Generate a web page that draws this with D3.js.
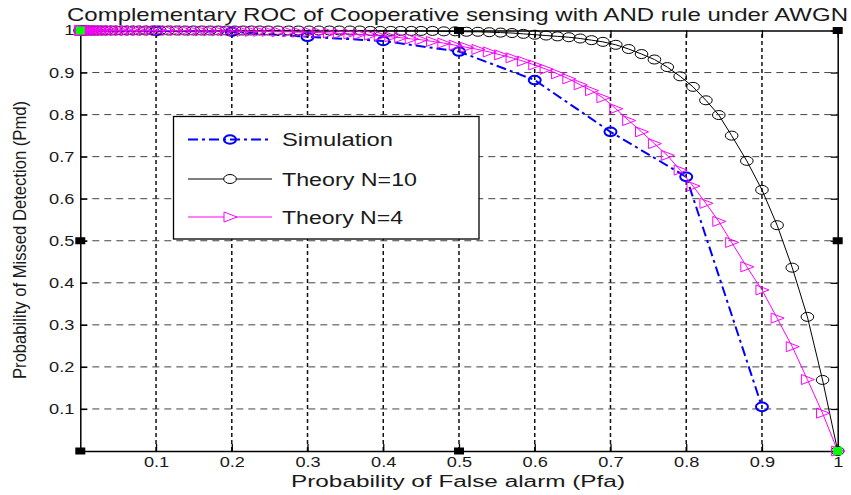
<!DOCTYPE html>
<html><head><meta charset="utf-8">
<script src="https://cdn.jsdelivr.net/npm/d3@7"></script>
<style>html,body{margin:0;padding:0;background:#fff;}svg{display:block;}</style>
</head><body>
<svg id="chart" width="851" height="495"></svg>
<script>
// ---------- data ----------
const titleText = "Complementary ROC of Cooperative sensing with AND rule under AWGN";
const xLabelText = "Probability of False alarm (Pfa)";
const yLabelText = "Probability of Missed Detection (Pmd)";
const seriesNames = ["Simulation", "Theory N=10", "Theory N=4"];

const xTickValues = [0.1,0.2,0.3,0.4,0.5,0.6,0.7,0.8,0.9,1];
const xTickLabels = ["0.1","0.2","0.3","0.4","0.5","0.6","0.7","0.8","0.9","1"];
const yTickValues = [0.1,0.2,0.3,0.4,0.5,0.6,0.7,0.8,0.9,1];
const yTickLabels = ["0.1","0.2","0.3","0.4","0.5","0.6","0.7","0.8","0.9","1"];

const pfaSim = [0,0.1,0.2,0.3,0.4,0.5,0.6,0.7,0.8,0.9];
const pmdSim = [1.000,0.999,0.997,0.985,0.975,0.950,0.882,0.759,0.652,0.105];

const pfaTheory = [0,0.001,0.002,0.003,0.004,0.006,0.008,0.011,0.014,0.017,0.021,0.025,0.030,0.035,0.041,0.047,0.054,0.061,0.069,0.077,0.086,0.095,
  0.105,0.116,0.127,0.138,0.149,0.160,0.171,0.182,0.193,0.204,0.215,0.226,0.237,0.248,
  0.261,0.275,0.288,0.302,0.315,0.329,0.342,0.356,0.369,0.383,0.396,0.410,0.423,0.437,
  0.450,0.465,0.480,0.495,0.510,0.525,0.540,0.555,0.570,0.585,0.600,0.615,0.630,0.645,0.660,0.675,0.690,
  0.707,0.724,0.741,0.758,0.775,0.792,0.809,0.826,0.843,
  0.860,0.880,0.900,0.920,0.940,0.960,0.980,1.000];

const pmdN10 = [1,1,1,1,1,1,1,1,1,1,1,1,1,1,1,1,1,1,1,1,1,1,
  1,1,1,1,1,1,1,1,1,1,1,1,1,1,
  1,1,1,1,1,1,1,1,1,0.999,0.999,0.999,0.999,0.999,
  0.999,0.999,0.998,0.998,0.997,0.997,0.996,0.995,0.994,0.992,0.990,0.988,0.986,0.984,0.981,0.977,0.973,
  0.966,0.956,0.944,0.931,0.913,0.891,0.866,0.834,0.799,
  0.750,0.690,0.621,0.537,0.436,0.319,0.169,0.000];

const pmdN4 = [1,1,1,1,1,1,1,1,1,1,1,1,1,1,1,1,1,1,1,1,1,1,
  1,1,1,1,0.999,0.999,0.999,0.999,0.999,0.999,0.998,0.998,0.998,0.998,
  0.997,0.997,0.996,0.996,0.995,0.994,0.993,0.992,0.991,0.989,0.987,0.985,0.983,0.980,
  0.978,0.974,0.970,0.965,0.960,0.955,0.949,0.942,0.935,0.927,0.918,0.908,0.897,0.885,0.871,0.857,0.840,
  0.814,0.786,0.759,0.731,0.703,0.668,0.630,0.589,0.546,
  0.496,0.438,0.383,0.316,0.248,0.170,0.090,0.000];

// stray square markers visible in the figure
const blackSquares = [[0,0],[0.5,0],[0,0.5],[1,0.5],[1,1],[0.5,1]];
const greenSquares = [[0,1],[1,0]];

// ---------- drawing ----------
const FONT = "'Liberation Sans', Arial, Helvetica, sans-serif";
const SX = 1.3; // horizontal stretch of the reference
const svg = d3.select("#chart");
const x = d3.scaleLinear().domain([0,1]).range([80.3,837.7]);
const y = d3.scaleLinear().domain([0,1]).range([451,30.5]);

function stretch(sel, factor, fixed) {
  sel.each(function(){
    const L = this.getComputedTextLength();
    d3.select(this).attr("textLength", fixed ? fixed : L*factor).attr("lengthAdjust","spacingAndGlyphs");
  });
}

svg.append("rect").attr("width",851).attr("height",495).attr("fill","#fff");

// grid
const g = svg.append("g");
g.selectAll("line.vg").data(xTickValues.filter(d=>d<1)).join("line")
  .attr("x1",d=>x(d)).attr("x2",d=>x(d)).attr("y1",y(0)).attr("y2",y(1))
  .attr("stroke","#111").attr("stroke-width",1.5).attr("stroke-dasharray","4,3");
g.selectAll("line.hg").data(yTickValues.filter(d=>d<1)).join("line")
  .attr("y1",d=>y(d)).attr("y2",d=>y(d)).attr("x1",x(0)).attr("x2",x(1))
  .attr("stroke","#444").attr("stroke-width",1).attr("stroke-dasharray","7,5");

// axes
function styleAxis(a){
  a.selectAll("path.domain").attr("stroke","#000").attr("stroke-width",1.5);
  a.selectAll(".tick line").attr("stroke","#000").attr("stroke-width",1.3);
  a.selectAll(".tick text").attr("fill","#1a1a1a").style("font-family",FONT).style("font-size","14px");
}
const ax = svg.append("g").attr("transform",`translate(0,${y(0)})`)
  .call(d3.axisBottom(x).tickValues(xTickValues).tickFormat((d,i)=>xTickLabels[i]).tickSizeInner(-7).tickSizeOuter(0).tickPadding(6));
styleAxis(ax);
const ay = svg.append("g").attr("transform",`translate(${x(0)},0)`)
  .call(d3.axisLeft(y).tickValues(yTickValues).tickFormat((d,i)=>yTickLabels[i]).tickSizeInner(-7).tickSizeOuter(0).tickPadding(6));
styleAxis(ay);
const at = svg.append("g").attr("transform",`translate(0,${y(1)})`)
  .call(d3.axisTop(x).tickValues(xTickValues).tickFormat("").tickSizeInner(-7).tickSizeOuter(0));
styleAxis(at);
const ar = svg.append("g").attr("transform",`translate(${x(1)},0)`)
  .call(d3.axisRight(y).tickValues(yTickValues).tickFormat("").tickSizeInner(-7).tickSizeOuter(0));
styleAxis(ar);
stretch(ax.selectAll(".tick text"), SX);
stretch(ay.selectAll(".tick text"), SX);

// line generators
const line = d3.line().x(d=>x(d[0])).y(d=>y(d[1]));
const simData = pfaSim.map((p,i)=>[p,pmdSim[i]]);
const n10Data = pfaTheory.map((p,i)=>[p,pmdN10[i]]);
const n4Data  = pfaTheory.map((p,i)=>[p,pmdN4[i]]);

const triPath = "M-6,-5L-6,5L7,0Z";

function drawSim(gs, data){
  gs.append("path").datum(data).attr("d",line).attr("fill","none")
    .attr("stroke","#0000ff").attr("stroke-width",2).attr("stroke-dasharray","10,4,3,4");
  gs.selectAll("ellipse").data(data).join("ellipse")
    .attr("cx",d=>x(d[0])).attr("cy",d=>y(d[1])).attr("rx",6).attr("ry",4.3)
    .attr("fill","none").attr("stroke","#0000ff").attr("stroke-width",2);
}
function drawN10(gs, data){
  gs.append("path").datum(data).attr("d",line).attr("fill","none")
    .attr("stroke","#000").attr("stroke-width",1);
  gs.selectAll("ellipse").data(data).join("ellipse")
    .attr("cx",d=>x(d[0])).attr("cy",d=>y(d[1])).attr("rx",6.3).attr("ry",4.5)
    .attr("fill","none").attr("stroke","#000").attr("stroke-width",1);
}
function drawN4(gs, data){
  gs.append("path").datum(data).attr("d",line).attr("fill","none")
    .attr("stroke","#ff00ff").attr("stroke-width",1);
  gs.selectAll("path.m").data(data).join("path").attr("class","m")
    .attr("transform",d=>`translate(${x(d[0])},${y(d[1])})`).attr("d",triPath)
    .attr("fill","none").attr("stroke","#ff00ff").attr("stroke-width",1);
}
drawSim(svg.append("g"), simData);
drawN10(svg.append("g"), n10Data);
drawN4(svg.append("g"), n4Data);

// stray square markers
svg.append("g").selectAll("rect").data(blackSquares).join("rect")
  .attr("x",d=>x(d[0])-5).attr("y",d=>y(d[1])-3.5).attr("width",10).attr("height",7).attr("fill","#000");
svg.append("g").selectAll("rect").data(greenSquares).join("rect")
  .attr("x",d=>x(d[0])-4.5).attr("y",d=>y(d[1])-4).attr("width",9).attr("height",8).attr("fill","#00ff00");

// legend
const lg = svg.append("g");
lg.append("rect").attr("x",173.5).attr("y",116.5).attr("width",305.5).attr("height",122.5)
  .attr("fill","#fff").attr("stroke","#000").attr("stroke-width",1.3);
const legY = [139.5, 179, 217];
const legW = [111, 135, 121];
const lx1 = 188, lx2 = 272, lmx = 230;
lg.append("line").attr("x1",lx1).attr("x2",lx2).attr("y1",legY[0]).attr("y2",legY[0])
  .attr("stroke","#0000ff").attr("stroke-width",2).attr("stroke-dasharray","10,4,3,4");
lg.append("ellipse").attr("cx",lmx).attr("cy",legY[0]).attr("rx",6).attr("ry",4.3)
  .attr("fill","none").attr("stroke","#0000ff").attr("stroke-width",2);
lg.append("line").attr("x1",lx1).attr("x2",lx2).attr("y1",legY[1]).attr("y2",legY[1])
  .attr("stroke","#000").attr("stroke-width",1);
lg.append("ellipse").attr("cx",lmx).attr("cy",legY[1]).attr("rx",6.3).attr("ry",4.5)
  .attr("fill","#fff").attr("stroke","#000").attr("stroke-width",1);
lg.append("line").attr("x1",lx1).attr("x2",lx2).attr("y1",legY[2]).attr("y2",legY[2])
  .attr("stroke","#ff00ff").attr("stroke-width",1);
lg.append("path").attr("transform",`translate(${lmx},${legY[2]})`).attr("d",triPath)
  .attr("fill","#fff").attr("stroke","#ff00ff").attr("stroke-width",1);
seriesNames.forEach((n,i)=>{
  const t = lg.append("text").attr("x",282).attr("y",legY[i]+6.5)
    .style("font-family",FONT).style("font-size","18px").attr("fill","#1a1a1a").text(n);
  stretch(t, 1, legW[i]);
});

// title and axis labels
const tt = svg.append("text").attr("x",67).attr("y",20.5)
  .style("font-family",FONT).style("font-size","18.5px").attr("fill","#1a1a1a").text(titleText);
stretch(tt, 1, 781);
const xl = svg.append("text").attr("x",291).attr("y",487)
  .style("font-family",FONT).style("font-size","16px").attr("fill","#1a1a1a").text(xLabelText);
stretch(xl, 1, 334);
const yl = svg.append("text").attr("transform","translate(26,240) rotate(-90) scale(1,1.2)").attr("text-anchor","middle")
  .style("font-family",FONT).style("font-size","15.5px").attr("fill","#1a1a1a").text(yLabelText);
stretch(yl, 1, 278);
</script>
</body></html>
